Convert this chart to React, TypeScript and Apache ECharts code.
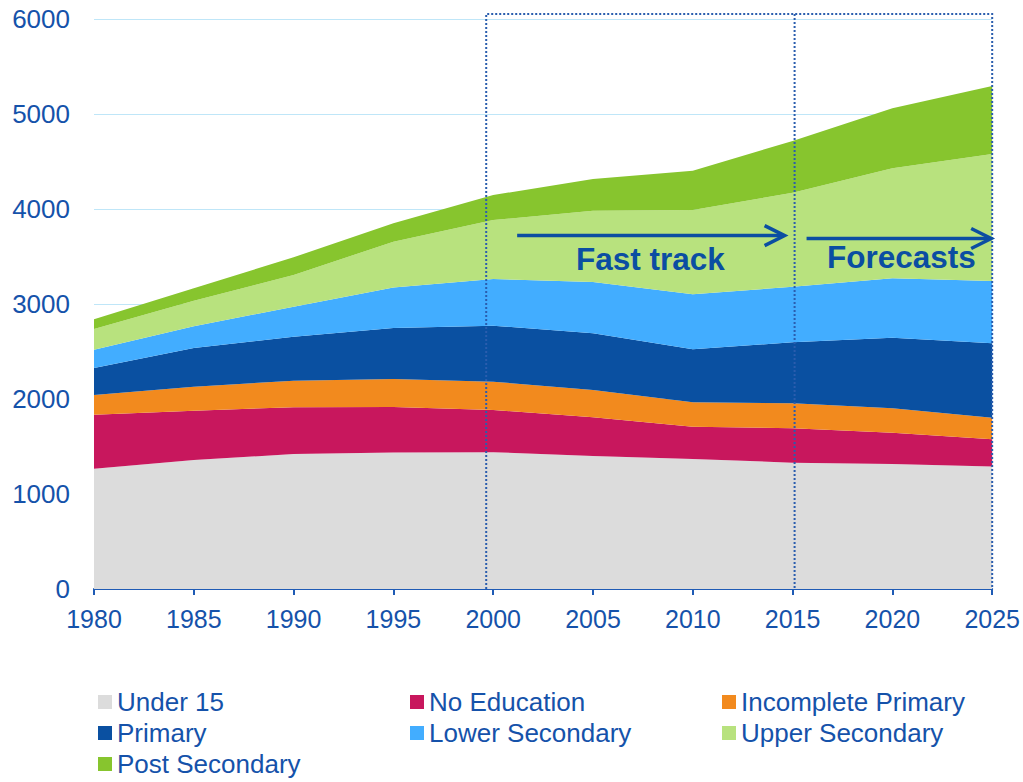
import React, { useEffect, useRef } from "react";
import * as echarts from "echarts";

const years = ["1980", "1985", "1990", "1995", "2000", "2005", "2010", "2015", "2020", "2025"];
const yTicks = [0, 1000, 2000, 3000, 4000, 5000, 6000];

const under15 = [1265, 1358, 1420, 1437, 1440, 1400, 1368, 1330, 1316, 1290];
const noEducation = [570, 519, 493, 479, 444, 407, 340, 362, 329, 286];
const incompletePrimary = [207, 252, 280, 295, 298, 288, 257, 263, 257, 227];
const primary = [284, 408, 463, 536, 590, 597, 558, 642, 743, 783];
const lowerSecondary = [193, 228, 316, 428, 491, 540, 579, 585, 626, 656];
const upperSecondary = [218, 270, 333, 481, 621, 750, 887, 990, 1157, 1337];
const postSecondary = [102, 130, 187, 193, 263, 334, 414, 544, 632, 716];

const seriesDefs = [
  { name: "Under 15", data: under15, color: "#DCDCDC" },
  { name: "No Education", data: noEducation, color: "#C8175D" },
  { name: "Incomplete Primary", data: incompletePrimary, color: "#F28A1E" },
  { name: "Primary", data: primary, color: "#0A50A1" },
  { name: "Lower Secondary", data: lowerSecondary, color: "#42ADFF" },
  { name: "Upper Secondary", data: upperSecondary, color: "#B8E27E" },
  { name: "Post Secondary", data: postSecondary, color: "#87C52E" },
];

const legendColumns = [
  ["Under 15", "Primary", "Post Secondary"],
  ["No Education", "Lower Secondary"],
  ["Incomplete Primary", "Upper Secondary"],
];
const legendLefts = [98, 410, 722];

const blue = "#1552AA";
const FONT = "'Liberation Sans', Arial, sans-serif";

export default function App() {
  const ref = useRef<HTMLDivElement>(null);
  useEffect(() => {
    if (!ref.current) return;
    const chart = echarts.init(ref.current, undefined, { renderer: "svg" });
    const option: any = {
      animation: false,
      textStyle: { fontFamily: FONT },
      grid: { left: 94, right: 30, top: 19, bottom: 193, containLabel: false },
      legend: legendColumns.map((col, i) => ({
        data: col,
        orient: "vertical",
        left: legendLefts[i],
        top: 689,
        height: 120,
        padding: 0,
        itemWidth: 14,
        itemHeight: 14,
        itemGap: 5,
        icon: "rect",
        selectedMode: false,
        textStyle: { fontSize: 26, color: blue, fontFamily: FONT, lineHeight: 26 },
      })),
      xAxis: {
        type: "category",
        data: years,
        boundaryGap: false,
        axisLine: { lineStyle: { color: "#1F5BB5", width: 2 } },
        axisTick: { show: true, length: 6, lineStyle: { color: "#1F5BB5", width: 2 }, alignWithLabel: true },
        axisLabel: { fontSize: 25, color: blue, margin: 17, fontFamily: FONT },
        splitLine: { show: false },
      },
      yAxis: {
        type: "value",
        min: yTicks[0],
        max: yTicks[yTicks.length - 1],
        interval: 1000,
        axisLine: { show: false },
        axisTick: { show: false },
        axisLabel: { fontSize: 26, color: blue, margin: 24, fontFamily: FONT, formatter: (v: number) => String(v) },
        splitLine: { lineStyle: { color: "#BFE6F8", width: 1 } },
      },
      series: seriesDefs.map((s) => ({
        name: s.name,
        type: "line",
        stack: "total",
        data: s.data,
        symbol: "none",
        lineStyle: { width: 0 },
        itemStyle: { color: s.color },
        areaStyle: { color: s.color, opacity: 1 },
        emphasis: { disabled: true },
      })),
    };
    chart.setOption(option);

    const px = (year: string, v: number) => chart.convertToPixel({ xAxisIndex: 0, yAxisIndex: 0 }, [year, v]) as number[];
    const p2000 = px("2000", 0);
    const p2015 = px("2015", 0);
    const p2025 = px("2025", 0);
    const pTop = px("2000", 6000);
    const step = p2015[0] - px("2010", 0)[0];
    const boxLeft = p2000[0] - step * 0.07;
    const boxTop = pTop[1] - 5;
    const boxBottom = p2000[1];
    const dotted = { stroke: "#2A5DAE", lineWidth: 2, lineDash: [2, 2], fill: null };
    const arrowStyle = { stroke: "#0B4EA2", lineWidth: 3.5, fill: null };
    const yArrow1 = px("2000", 3720)[1];
    const yArrow2 = px("2000", 3690)[1];
    const a1s = p2000[0] + step * 0.24;
    const a1e = p2015[0] - step * 0.08;
    const a2s = p2015[0] + step * 0.14;
    const a2e = p2025[0] - 1;

    chart.setOption({
      graphic: [
        { type: "polyline", z: 100, shape: { points: [[boxLeft, boxBottom], [boxLeft, boxTop], [p2025[0], boxTop], [p2025[0], boxBottom]] }, style: dotted },
        { type: "line", z: 100, shape: { x1: p2015[0] + 2, y1: boxTop, x2: p2015[0] + 2, y2: boxBottom }, style: dotted },
        { type: "line", z: 101, shape: { x1: a1s, y1: yArrow1, x2: a1e - 2, y2: yArrow1 }, style: arrowStyle },
        { type: "polyline", z: 101, shape: { points: [[a1e - 20, yArrow1 - 10], [a1e, yArrow1], [a1e - 20, yArrow1 + 10]] }, style: arrowStyle },
        { type: "line", z: 101, shape: { x1: a2s, y1: yArrow2, x2: a2e - 2, y2: yArrow2 }, style: arrowStyle },
        { type: "polyline", z: 101, shape: { points: [[a2e - 20, yArrow2 - 10], [a2e, yArrow2], [a2e - 20, yArrow2 + 10]] }, style: arrowStyle },
        { type: "text", z: 102, x: 576, y: 259, style: { text: "Fast track", fontSize: 31.5, fontWeight: "bold", fill: "#0B4EA2", fontFamily: FONT, verticalAlign: "middle", align: "left" } },
        { type: "text", z: 102, x: 827, y: 257, style: { text: "Forecasts", fontSize: 31.5, fontWeight: "bold", fill: "#0B4EA2", fontFamily: FONT, verticalAlign: "middle", align: "left" } },
      ],
    });

    return () => chart.dispose();
  }, []);
  return <div ref={ref} style={{ position: "absolute", left: 0, top: 0, width: 1023, height: 782 }} />;
}
